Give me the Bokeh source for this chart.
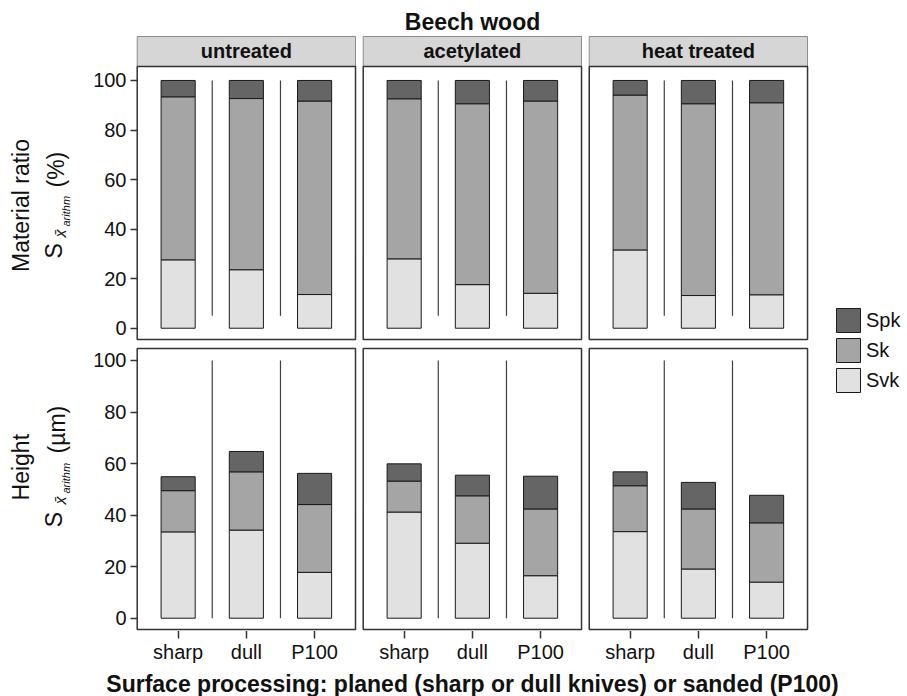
import numpy as np
from bokeh.plotting import figure
from bokeh.models import ColumnDataSource, Range1d, FixedTicker, Label
from bokeh.layouts import column, row
from bokeh.embed import file_html
from bokeh.resources import INLINE
from bokeh.core.properties import value

# ---------------- data ----------------
title_text = "Beech wood"
x_title = "Surface processing: planed (sharp or dull knives) or sanded (P100)"
treatments = ["untreated", "acetylated", "heat treated"]
processes = ["sharp", "dull", "P100"]
stack_order = ["Svk", "Sk", "Spk"]          # bottom -> top
legend_order = ["Spk", "Sk", "Svk"]
y_ticks = [0, 20, 40, 60, 80, 100]

# order: untreated (sharp, dull, P100), acetylated (...), heat treated (...)
ratio_svk = [27.6, 23.6, 13.6, 28.0, 17.6, 14.1, 31.6, 13.2, 13.5]
ratio_sk = [65.8, 69.1, 78.1, 64.6, 73.0, 77.6, 62.5, 77.4, 77.5]
ratio_spk = [6.6, 7.3, 8.3, 7.4, 9.4, 8.3, 5.9, 9.4, 9.0]

height_svk = [33.5, 34.2, 17.8, 41.2, 29.1, 16.5, 33.6, 19.1, 14.0]
height_sk = [16.0, 22.6, 26.3, 12.0, 18.4, 25.9, 17.8, 23.3, 23.0]
height_spk = [5.4, 7.9, 12.1, 6.7, 8.0, 12.7, 5.4, 10.3, 10.7]

# ---------------- style / layout ----------------
FONT = "Liberation Sans"
colors = {"Spk": "#656565", "Sk": "#a5a5a5", "Svk": "#e1e1e1"}
BAR_LINE = "#1a1a1a"
PANEL_LINE = "#333333"
STRIP_FILL = "#d6d6d6"
STRIP_LINE = "#8c8c8c"
SEP_COLOR = "#404040"
TEXT_COLOR = "#111111"

W_TOTAL, H_TOTAL = 907, 696
LEFT_W = 78            # width of the y-title column
AXIS_W = 57            # room for the y tick labels
LEGEND_W = 98
MAIN_H = 341 + 5 + 285  # panel block; the x axis strip follows below

PANEL_GAP = 0.113
PITCH = 3.2 + PANEL_GAP
PPU_X = 68.22
FRAME_W = 674
X_START = 0.375
X_END = X_START + FRAME_W / PPU_X

TOP_H = 307
TOP_Y0, TOP_Y1 = -5.36, 118.55
BOT_H = 285
BOT_Y0, BOT_Y1 = -5.155, 105.43

TOP_PANEL = (-4.6, 105.65)
STRIP = (105.65, 117.74)
BOT_PANEL = (-4.38, 104.65)

bar_x = [round(k * PITCH + j + 1, 3) for k in range(len(treatments)) for j in range(len(processes))]
panel_left = [0.4 + k * PITCH for k in range(len(treatments))]
panel_right = [3.6 + k * PITCH for k in range(len(treatments))]
panel_mid = [2.0 + k * PITCH for k in range(len(treatments))]
sep_x = [k * PITCH + s for k in range(len(treatments)) for s in (1.5, 2.5)]

shared_x = Range1d(X_START, X_END)


def make_panel_fig(y0, y1, fh, top, title=None):
    p = figure(x_range=shared_x, y_range=Range1d(y0, y1),
               frame_width=FRAME_W, frame_height=fh,
               min_border_left=AXIS_W, min_border_right=0,
               min_border_top=top, min_border_bottom=0,
               toolbar_location=None, output_backend="svg", title=title,
               x_axis_location=None,
               outline_line_color=None, background_fill_color="white",
               border_fill_color="white")
    p.grid.visible = False
    ax = p.yaxis[0]
    ax.ticker = FixedTicker(ticks=y_ticks)
    ax.axis_line_color = None
    ax.major_tick_in = 2
    ax.major_tick_out = 5
    ax.minor_tick_line_color = None
    ax.major_tick_line_color = PANEL_LINE
    ax.major_tick_line_width = 1.5
    ax.major_label_text_font = FONT
    ax.major_label_text_font_size = "20px"
    ax.major_label_text_color = TEXT_COLOR
    ax.major_label_standoff = 4
    return p


def draw_row(p, svk, sk, spk, panel_y, sep_lo):
    p.segment(x0=sep_x, x1=sep_x, y0=[sep_lo] * len(sep_x), y1=[100] * len(sep_x),
              line_color=SEP_COLOR, line_width=1.2)
    src = ColumnDataSource(dict(x=bar_x, Svk=svk, Sk=sk, Spk=spk))
    p.vbar_stack(stack_order, x="x", width=0.5, source=src,
                 fill_color=[colors[c] for c in stack_order],
                 line_color=BAR_LINE, line_width=1)
    p.quad(left=panel_left, right=panel_right, bottom=[panel_y[0]] * 3, top=[panel_y[1]] * 3,
           fill_color=None, line_color=PANEL_LINE, line_width=1.5)


def text_fig(w, h, y_top, y_bottom):
    f = figure(width=w, height=h, x_range=Range1d(0, w), y_range=Range1d(y_bottom, y_top),
               toolbar_location=None, output_backend="svg", min_border=0, title=None,
               x_axis_location=None, y_axis_location=None, outline_line_color=None)
    f.grid.visible = False
    return f


# ---------------- top row: material ratio ----------------
pt = make_panel_fig(TOP_Y0, TOP_Y1, TOP_H, 34, title=title_text)
pt.title.align = "center"
pt.title.text_font = FONT
pt.title.text_font_style = "bold"
pt.title.text_font_size = "23px"
pt.title.text_color = TEXT_COLOR
pt.title.standoff = 0
pt.title.offset = -2
pt.quad(left=panel_left, right=panel_right, bottom=[STRIP[0]] * 3, top=[STRIP[1]] * 3,
        fill_color=STRIP_FILL, line_color=STRIP_LINE, line_width=1)
pt.text(x=panel_mid, y=[(STRIP[0] + STRIP[1]) / 2] * 3, text=treatments,
        text_font=value(FONT), text_font_style="bold", text_font_size="20px",
        text_align="center", text_baseline="middle", text_color=TEXT_COLOR)
draw_row(pt, ratio_svk, ratio_sk, ratio_spk, TOP_PANEL, 5)

# ---------------- bottom row: height ----------------
pb = make_panel_fig(BOT_Y0, BOT_Y1, BOT_H, 5)
draw_row(pb, height_svk, height_sk, height_spk, BOT_PANEL, 0)

# ---------------- shared x axis strip (full page width) ----------------
xt = figure(x_range=shared_x, y_range=Range1d(0, 1), frame_width=FRAME_W, frame_height=1,
            min_border_left=LEFT_W + AXIS_W, min_border_right=LEGEND_W,
            min_border_top=0, min_border_bottom=10, title=None,
            toolbar_location=None, output_backend="svg", y_axis_location=None,
            outline_line_color=None)
xt.grid.visible = False
xa = xt.xaxis[0]
xa.ticker = FixedTicker(ticks=bar_x)
xa.major_label_overrides = {bx: processes[i % 3] for i, bx in enumerate(bar_x)}
xa.axis_line_color = None
xa.major_tick_in = 3
xa.major_tick_out = 6
xa.minor_tick_line_color = None
xa.major_tick_line_color = PANEL_LINE
xa.major_tick_line_width = 1.5
xa.major_label_text_font = FONT
xa.major_label_text_font_size = "20px"
xa.major_label_text_color = TEXT_COLOR
xa.major_label_standoff = 2
xa.axis_label = x_title
xa.axis_label_text_font = FONT
xa.axis_label_text_font_style = "bold"
xa.axis_label_text_font_size = "23px"
xa.axis_label_text_color = TEXT_COLOR
xa.axis_label_standoff = 5

# ---------------- y titles (own column, pixel coordinates) ----------------
lt = text_fig(LEFT_W, MAIN_H, 0, MAIN_H)


def ylabel(line1, y1, parts):
    lt.add_layout(Label(x=20, y=y1, text=line1, angle=np.pi / 2,
                        text_align="center", text_baseline="middle", text_font=FONT,
                        text_font_size="23px", text_color=TEXT_COLOR))
    for txt, X, Y, size, style in parts:
        lt.add_layout(Label(x=X, y=Y, text=txt, angle=np.pi / 2,
                            text_align="left", text_baseline="middle", text_font=FONT,
                            text_font_size=size, text_font_style=style, text_color=TEXT_COLOR))


ylabel("Material ratio", 205,
       [("S", 53, 258, "23px", "normal"),
        ("x\u0304", 60, 237, "16px", "italic"),
        ("arithm", 65, 226, "11px", "italic"),
        ("(%)", 55, 187, "23px", "normal")])
ylabel("Height", 466.7,
       [("S", 53, 526.7, "23px", "normal"),
        ("x\u0304", 60, 504, "16px", "italic"),
        ("arithm", 65, 493, "11px", "italic"),
        ("(\u00b5m)", 56, 453, "23px", "normal")])

# ---------------- legend ----------------
lf = figure(width=LEGEND_W, height=MAIN_H, x_range=Range1d(0, 1), y_range=Range1d(0, 1),
            toolbar_location=None, output_backend="svg", min_border=0, title=None,
            x_axis_location=None, y_axis_location=None, outline_line_color=None)
lf.grid.visible = False
for name in legend_order:
    # off-range placeholder: only provides the legend key's style
    lf.vbar(x=[-5], top=[0], width=0.5, fill_color=colors[name], line_color=BAR_LINE,
            line_width=1, legend_label=name)
lg = lf.legend[0]
lg.location = (24, MAIN_H - 395)
lg.padding = 0
lg.margin = 0
lg.spacing = 0
lg.glyph_width = 30
lg.glyph_height = 30
lg.label_standoff = 3
lg.label_text_font = FONT
lg.label_text_font_size = "20px"
lg.label_text_color = TEXT_COLOR
lg.border_line_color = None
lg.background_fill_alpha = 0

layout = column(row(lt, column(pt, pb, spacing=0), lf, spacing=0), xt, spacing=0)

open("out.html", "w").write(file_html(layout, INLINE))
